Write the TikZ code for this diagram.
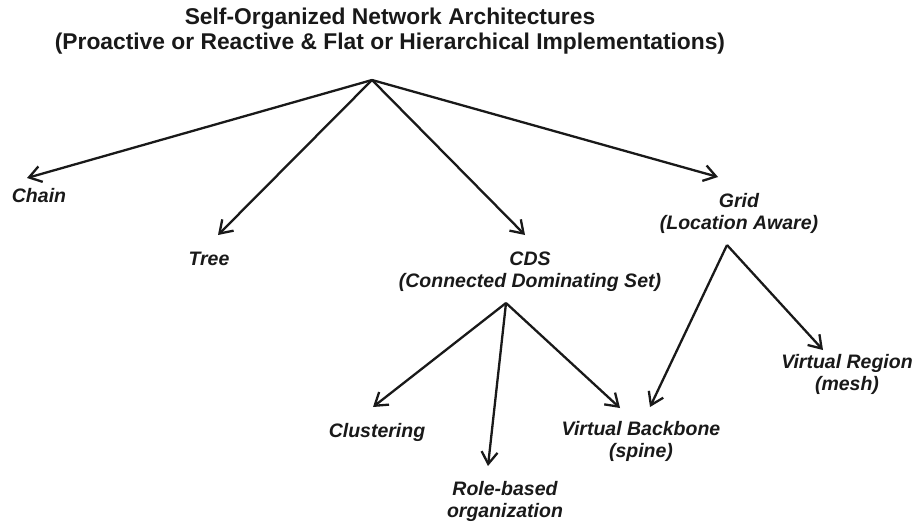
\documentclass[tikz,border=0pt]{standalone}
\usepackage{fontspec}
\setmainfont{Liberation Sans}
\usetikzlibrary{arrows.meta}
\definecolor{ink}{RGB}{25,25,25}
\begin{document}
\begin{tikzpicture}[x=1pt,y=-1pt,
  lbl/.style={anchor=base, inner sep=0pt, text=ink,
    font=\fontsize{19.5}{22.5}\selectfont\bfseries\itshape},
  ttl/.style={anchor=base, inner sep=0pt, text=ink,
    font=\fontsize{22.8}{25}\selectfont\bfseries},
  conn/.style={draw=ink, line width=2.3pt, line join=miter,
    -{Straight Barb[length=12pt,width=16pt,line width=2.3pt]}}]
\useasboundingbox (0,0) rectangle (917,523);

% title
\node[ttl] (title) at (390,24) {\begin{tabular}[t]{@{}c@{}}Self-Organized Network Architectures\\(Proactive or Reactive \& Flat or Hierarchical Implementations)\end{tabular}};

% labels
\node[lbl] (chain) at (39,202) {Chain};
\node[lbl] (tree) at (209,265) {Tree};
\node[lbl] (cds) at (530,265) {\begin{tabular}[t]{@{}c@{}}CDS\\(Connected Dominating Set)\end{tabular}};
\node[lbl] (grid) at (739,207) {\begin{tabular}[t]{@{}c@{}}Grid\\(Location Aware)\end{tabular}};
\node[lbl] (clus) at (377,437) {Clustering};
\node[lbl] (role) at (505,495) {\begin{tabular}[t]{@{}c@{}}Role-based\\organization\end{tabular}};
\node[lbl] (backbone) at (641,435) {\begin{tabular}[t]{@{}c@{}}Virtual Backbone\\(spine)\end{tabular}};
\node[lbl] (region) at (847,368) {\begin{tabular}[t]{@{}c@{}}Virtual Region\\(mesh)\end{tabular}};

% branch points and arrow ends
\coordinate (rootpt) at (372,80);
\coordinate (cdspt) at (506,303);
\coordinate (gridpt) at (727,245);
\coordinate (chaintip) at (27,178);
\coordinate (treetip) at (218,235);
\coordinate (cdstip) at (525,235);
\coordinate (gridtip) at (718,177);
\coordinate (clustip) at (373,407);
\coordinate (roletip) at (488,466);
\coordinate (bbtipA) at (620,408);
\coordinate (bbtipB) at (650,407);
\coordinate (regiontip) at (823,350);

\draw[conn] (rootpt) -- (chaintip);
\draw[conn] (rootpt) -- (treetip);
\draw[conn] (rootpt) -- (cdstip);
\draw[conn] (rootpt) -- (gridtip);
\draw[conn] (cdspt) -- (clustip);
\draw[conn] (cdspt) -- (roletip);
\draw[conn] (cdspt) -- (bbtipA);
\draw[conn] (gridpt) -- (bbtipB);
\draw[conn] (gridpt) -- (regiontip);
\end{tikzpicture}
\end{document}
